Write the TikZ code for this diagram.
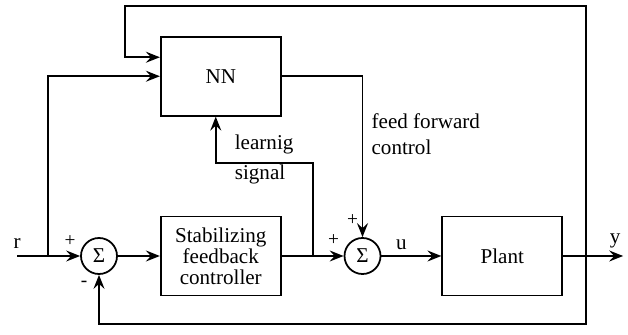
\documentclass[tikz,border=0pt]{standalone}
\usepackage{fontspec}
\setmainfont{Liberation Serif}
\usepackage{tikz}
\usetikzlibrary{arrows.meta,positioning}

\begin{document}
\begin{tikzpicture}[node distance=1cm, every node/.style={font=\fontsize{12}{14}\selectfont}]

    % Styles for the blocks, summing junctions and signals
    \tikzset{
        blockbox/.style={draw=black, fill=white, line width=1pt, minimum width=2.4cm, minimum height=1.58cm, align=center},
        sumnode/.style={draw=black, circle, line width=1pt, minimum size=0.72cm, inner sep=0pt},
        arrow/.style={->, >={Stealth[length=2.8mm, width=2.2mm, inset=1mm]}, line width=1pt},
        sign/.style={inner sep=0pt, font=\fontsize{11}{12}\selectfont},
        lbl/.style={inner sep=1pt, align=left}
    }

    \useasboundingbox (0,0) rectangle (12.56,6.7);

    % Main loop from left to right
    \node[sumnode] (sum1) at (1.98,1.58) {Σ};
    \node[blockbox, right=0.84cm of sum1, font=\fontsize{12}{12}\selectfont] (ctrl) {Stabilizing\\feedback\\controller};
    \node[sumnode, right=1.24cm of ctrl] (sum2) {Σ};
    \node[blockbox, right=1.2cm of sum2] (plant) {Plant};

    % Neural network above the controller
    \node[blockbox, above=1.98cm of ctrl] (NN) {NN};

    % Free ends and branch points
    \coordinate[left=1.26cm of sum1] (rin);
    \coordinate[left=0.64cm of sum1] (rtap);
    \coordinate[right=0.62cm of ctrl] (ltap);
    \coordinate[right=0.46cm of plant] (ytap);
    \coordinate[right=1.2cm of plant] (yout);
    \coordinate[above=0.6cm of NN.north west, xshift=-0.7cm] (tl);

    % Signal flow
    \draw[arrow] (rin) -- (sum1);
    \draw[arrow] (sum1) -- (ctrl);
    \draw[arrow] (ctrl) -- (sum2);
    \draw[arrow] (sum2) -- (plant);
    \draw[arrow] (plant) -- (yout);
    \draw[arrow] (rtap) |- (NN.west);
    \draw[arrow] (ytap) |- (tl) |- ([yshift=0.38cm]NN.west);
    \draw[arrow] (NN.east) -| (sum2.north);
    \draw[arrow] (ltap) -- ++(0,1.86cm) -| ([xshift=-0.1cm]NN.south);
    \draw[arrow] (ytap) -- ++(0,-1.36cm) -| (sum1.south);

    % Labels
    \node[sign] (p1) at ([xshift=-0.58cm, yshift=0.3cm]sum1.center) {+};
    \node[sign] (m1) at ([xshift=-0.3cm, yshift=-0.56cm]sum1.center) {-};
    \node[sign] (p2) at ([xshift=-0.58cm, yshift=0.32cm]sum2.center) {+};
    \node[sign] (p3) at ([xshift=-0.2cm, yshift=0.72cm]sum2.center) {+};
    \node[lbl] (ulbl) at ([xshift=0.78cm, yshift=0.22cm]sum2.center) {u};
    \node[lbl] (rlbl) at ([yshift=0.24cm]rin) {r};
    \node[lbl] (ylbl) at ([xshift=-0.16cm, yshift=0.3cm]yout) {y};
    \node[lbl, anchor=west] (lrn) at ([xshift=0.24cm, yshift=-0.56cm]NN.south) {learnig};
    \node[lbl, anchor=west] (sig) at ([xshift=0.24cm, yshift=-1.16cm]NN.south) {signal};
    \node[lbl, anchor=west, font=\fontsize{12}{14.5}\selectfont] (ffc) at ([xshift=0.14cm, yshift=-1.16cm]NN.east -| sum2) {feed forward\\control};

\end{tikzpicture}
\end{document}
